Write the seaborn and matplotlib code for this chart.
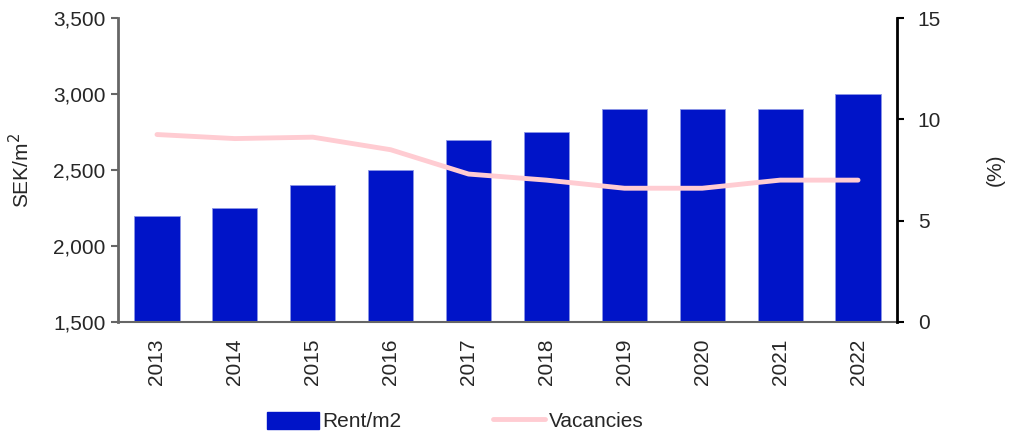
import matplotlib
matplotlib.use("Agg")
import matplotlib.pyplot as plt
import seaborn as sns
import pandas as pd
from matplotlib.patches import Patch
from matplotlib.lines import Line2D
from matplotlib.ticker import FuncFormatter

# Data
years = ["2013", "2014", "2015", "2016", "2017", "2018", "2019", "2020", "2021", "2022"]
rent = [2200, 2250, 2400, 2500, 2700, 2750, 2900, 2900, 2900, 3000]
vacancies = [9.25, 9.05, 9.12, 8.5, 7.3, 7.0, 6.6, 6.6, 7.0, 7.0]

df = pd.DataFrame({"Year": years, "Rent": rent, "Vacancies": vacancies})

bar_color = "#0014C8"
line_color = "#FFCCD2"

sns.set_style("white")
plt.rcParams["font.family"] = ["Liberation Sans", "DejaVu Sans"]
plt.rcParams["font.size"] = 15

fig = plt.figure(figsize=(10.14, 4.37), dpi=100)
ax = fig.add_axes([0.1164, 0.2632, 0.7682, 0.6956])

sns.barplot(data=df, x="Year", y="Rent", color=bar_color, width=0.58,
            saturation=1, edgecolor="#8C96E6", linewidth=0.6, ax=ax)
ax.set_ylim(1500, 3500)
ax.set_yticks([1500, 2000, 2500, 3000, 3500])
ax.yaxis.set_major_formatter(FuncFormatter(lambda v, p: f"{int(v):,}"))
ax.set_xlabel("")
ax.set_ylabel("SEK/m$^2$", fontsize=15, labelpad=14)
ax.tick_params(axis="x", labelrotation=90, labelsize=15, length=0, pad=12)
ax.tick_params(axis="y", labelsize=15, length=5, width=1.5, color="#666666",
               direction="out", left=True, pad=4)
ax.set_xlim(-0.5, len(years) - 0.5)

for side in ["top", "right"]:
    ax.spines[side].set_visible(False)
ax.spines["left"].set_color("#666666")
ax.spines["left"].set_linewidth(2)
ax.spines["bottom"].set_color("#666666")
ax.spines["bottom"].set_linewidth(1.5)

ax2 = ax.twinx()
sns.lineplot(data=df, x="Year", y="Vacancies", color=line_color,
             linewidth=3.5, ax=ax2, sort=False)
ax2.set_ylim(0, 15)
ax2.set_yticks([0, 5, 10, 15])
ax2.set_ylabel("(%)", fontsize=15, labelpad=32)
ax2.tick_params(axis="y", labelsize=15, length=5, width=1.5, color="black",
                direction="out", right=True, pad=10)
for side in ["top", "left", "bottom"]:
    ax2.spines[side].set_visible(False)
ax2.spines["right"].set_color("black")
ax2.spines["right"].set_linewidth(2)
ax2.set_xlabel("")

handles = [Patch(facecolor=bar_color, edgecolor=bar_color),
           Line2D([0], [0], color=line_color, linewidth=3.5)]
fig.legend(handles, ["Rent/m2", "Vacancies"], loc="lower center",
           bbox_to_anchor=(0.449, -0.03), ncol=2, frameon=False,
           fontsize=15, handlelength=2.5, handleheight=0.9,
           handletextpad=0.15, columnspacing=4.4)

fig.savefig("out.png", dpi=100)
